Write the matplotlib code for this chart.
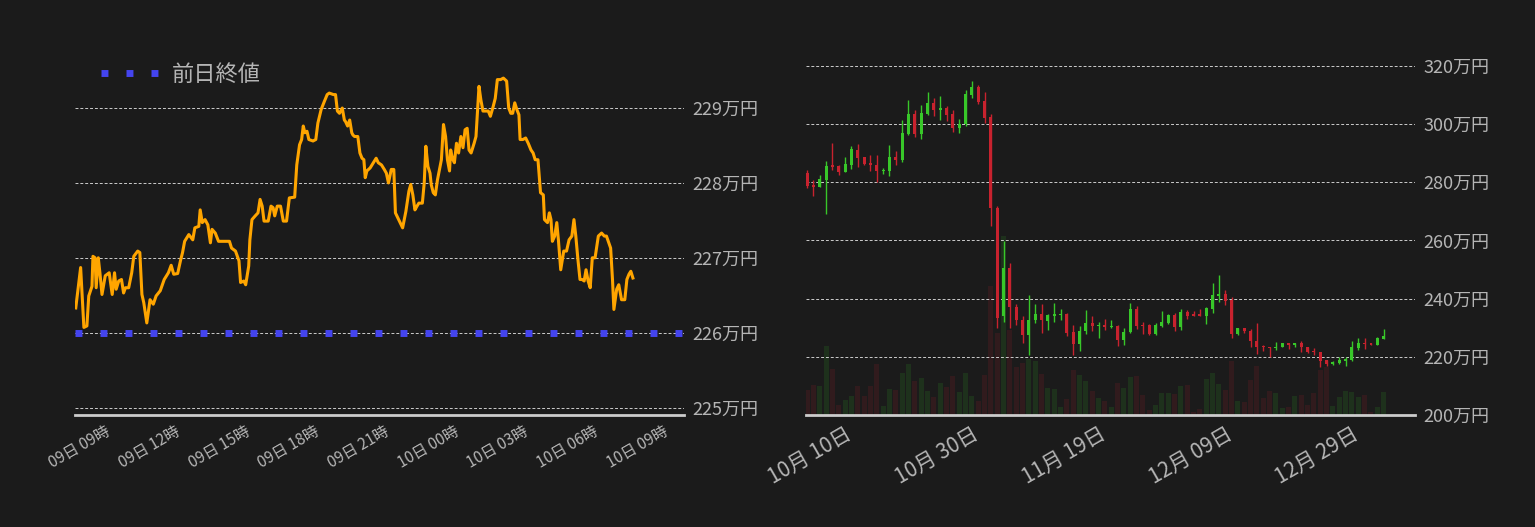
import numpy as np
import pandas as pd
import matplotlib
matplotlib.use("Agg")
import matplotlib.pyplot as plt
from matplotlib.ticker import FuncFormatter

plt.rcParams['font.family'] = ['Noto Sans CJK JP', 'DejaVu Sans']

# ---- intraday (hours from 09日 00:00, price in 万円) ----
hours = [7.73, 7.94, 8.08, 8.21, 8.29, 8.43, 8.47, 8.56, 8.61, 8.70, 8.77, 8.86, 9.00, 9.17, 9.30, 9.40,
         9.47, 9.58, 9.70, 9.79, 9.87, 10.01, 10.14, 10.23, 10.40, 10.49, 10.58, 10.66, 10.79, 10.93, 11.07,
         11.19, 11.37, 11.54, 11.72, 11.84, 11.95, 12.12, 12.24, 12.33, 12.42, 12.60, 12.77, 12.86, 13.03,
         13.09, 13.18, 13.30, 13.42, 13.53, 13.60, 13.74, 13.88, 14.09, 14.35, 14.44, 14.61, 14.76, 14.83,
         14.97, 15.05, 15.18, 15.23, 15.32, 15.46, 15.58, 15.67, 15.76, 15.84, 16.02, 16.14, 16.23, 16.30,
         16.41, 16.55, 16.67, 16.81, 16.93, 17.16, 17.25, 17.37, 17.46, 17.53, 17.60, 17.69, 17.77, 17.95,
         18.07, 18.16, 18.30, 18.44, 18.56, 18.65, 18.83, 18.92, 19.00, 19.09, 19.21, 19.30, 19.35, 19.44,
         19.53, 19.62, 19.67, 19.74, 19.88, 19.97, 20.06, 20.14, 20.20, 20.27, 20.41, 20.55, 20.67, 20.76,
         20.90, 21.02, 21.11, 21.20, 21.32, 21.43, 21.50, 21.64, 21.81, 21.95, 22.08, 22.16, 22.25, 22.34,
         22.43, 22.51, 22.66, 22.74, 22.81, 22.90, 22.99, 23.04, 23.13, 23.22, 23.31, 23.48, 23.57, 23.66,
         23.74, 23.83, 23.88, 23.95, 24.04, 24.13, 24.22, 24.32, 24.41, 24.50, 24.59, 24.67, 24.76, 24.89,
         24.97, 25.03, 25.10, 25.18, 25.27, 25.50, 25.59, 25.71, 25.80, 25.89, 26.03, 26.15, 26.29, 26.38,
         26.47, 26.55, 26.64, 26.73, 26.82, 26.87, 26.99, 27.11, 27.22, 27.34, 27.43, 27.52, 27.64, 27.75,
         27.87, 27.92, 28.05, 28.13, 28.20, 28.26, 28.36, 28.45, 28.52, 28.62, 28.75, 28.87, 28.98, 29.10,
         29.19, 29.27, 29.36, 29.45, 29.54, 29.63, 29.71, 29.80, 29.89, 29.98, 30.10, 30.24, 30.38, 30.50,
         30.59, 30.77, 30.85, 30.91, 31.03, 31.12, 31.24, 31.38, 31.47, 31.56, 31.64, 31.73]
prices = [226.33, 226.87, 226.07, 226.09, 226.49, 226.62, 227.02, 227.00, 226.60, 227.00, 226.80, 226.51,
          226.76, 226.80, 226.51, 226.80, 226.58, 226.69, 226.71, 226.53, 226.60, 226.60, 226.80, 227.02,
          227.09, 227.07, 226.51, 226.40, 226.13, 226.44, 226.38, 226.49, 226.56, 226.71, 226.80, 226.90,
          226.78, 226.79, 226.96, 227.07, 227.22, 227.31, 227.24, 227.40, 227.42, 227.64, 227.47, 227.51,
          227.44, 227.20, 227.38, 227.33, 227.22, 227.22, 227.22, 227.13, 227.09, 226.96, 226.67, 226.69,
          226.64, 226.89, 227.24, 227.51, 227.56, 227.60, 227.78, 227.69, 227.49, 227.49, 227.69, 227.67,
          227.56, 227.69, 227.69, 227.49, 227.49, 227.80, 227.81, 228.24, 228.51, 228.58, 228.76, 228.67,
          228.69, 228.58, 228.56, 228.58, 228.80, 228.98, 229.09, 229.18, 229.20, 229.18, 229.18, 228.96,
          228.93, 229.00, 228.84, 228.82, 228.76, 228.84, 228.67, 228.64, 228.62, 228.62, 228.40, 228.33,
          228.31, 228.07, 228.16, 228.20, 228.27, 228.33, 228.27, 228.24, 228.18, 228.13, 228.00, 228.18,
          228.18, 227.60, 227.51, 227.40, 227.62, 227.89, 227.98, 227.84, 227.64, 227.69, 227.73, 227.73,
          228.00, 228.49, 228.22, 228.13, 227.98, 227.87, 227.84, 228.04, 228.31, 228.78, 228.62, 228.31,
          228.16, 228.44, 228.33, 228.27, 228.53, 228.40, 228.62, 228.47, 228.71, 228.73, 228.44, 228.40,
          228.53, 228.62, 228.93, 229.29, 229.11, 228.96, 228.96, 228.89, 229.02, 229.13, 229.38, 229.38,
          229.40, 229.36, 229.00, 228.93, 228.93, 229.07, 228.98, 228.91, 228.58, 228.58, 228.60, 228.53,
          228.44, 228.40, 228.31, 228.31, 227.87, 227.84, 227.51, 227.47, 227.60, 227.51, 227.22, 227.29,
          227.47, 227.24, 226.84, 227.09, 227.09, 227.24, 227.29, 227.51, 227.29, 226.98, 226.71, 226.71,
          226.69, 226.84, 226.69, 226.60, 227.00, 227.00, 227.29, 227.33, 227.29, 227.29, 227.13, 226.71,
          226.31, 226.58, 226.64, 226.44, 226.44, 226.71, 226.78, 226.82, 226.73]
prev_close = 226.0
intraday_ticks = [9, 12, 15, 18, 21, 24, 27, 30, 33]
intraday_labels = ['09日 09時', '09日 12時', '09日 15時', '09日 18時', '09日 21時',
                   '10日 00時', '10日 03時', '10日 06時', '10日 09時']

# ---- daily candles (万円) ----
opens = [283.1, 279.2, 278.3, 280.9, 285.6, 285.6, 283.4, 286.1, 291.1, 288.6, 286.7, 286.0, 283.7, 284.0,
         288.7, 287.8, 296.7, 303.4, 296.7, 303.4, 307.1, 304.9, 305.4, 303.4, 298.7, 299.9, 310.0, 312.6,
         307.8, 302.4, 271.3, 233.9, 250.5, 237.2, 232.7, 227.4, 232.5, 234.8, 232.2, 234.2, 234.4, 234.8,
         228.5, 224.5, 229.0, 231.7, 230.5, 230.8, 230.1, 230.5, 225.7, 228.4, 236.5, 230.8, 230.8, 227.7,
         230.7, 231.7, 234.4, 230.1, 235.5, 234.4, 234.4, 234.2, 236.6, 241.0, 241.6, 239.6, 227.7, 230.0,
         228.9, 225.6, 223.5, 223.5, 223.0, 223.3, 224.6, 224.0, 224.9, 223.5, 221.8, 221.8, 218.8, 217.5,
         217.8, 218.5, 218.8, 223.1, 224.9, 224.6, 224.0, 226.0]
closes = [278.8, 278.3, 281.2, 285.6, 285.4, 283.4, 286.2, 291.4, 288.5, 286.4, 285.8, 283.7, 284.3, 288.7,
          287.7, 296.9, 303.4, 296.7, 303.7, 307.1, 304.9, 305.4, 303.2, 298.7, 299.9, 310.2, 312.6, 307.6,
          302.1, 271.1, 233.5, 250.5, 237.0, 232.5, 227.4, 232.7, 234.8, 232.5, 234.4, 234.8, 234.8, 228.3,
          224.5, 229.0, 231.7, 230.5, 230.8, 230.1, 230.5, 225.7, 228.5, 236.5, 230.5, 230.5, 227.7, 231.0,
          232.1, 234.4, 230.1, 235.5, 234.2, 234.2, 234.2, 236.8, 241.3, 241.6, 239.3, 227.7, 230.0, 228.8,
          225.3, 223.3, 223.3, 223.0, 223.5, 224.6, 224.0, 224.9, 223.3, 221.6, 221.6, 218.5, 217.5, 218.2,
          218.8, 219.2, 223.3, 224.9, 224.3, 224.0, 226.3, 227.0]
highs = [284.2, 280.9, 282.6, 287.4, 293.4, 285.9, 288.6, 292.5, 293.1, 288.8, 289.4, 289.4, 285.0, 292.8,
         290.7, 301.3, 308.2, 304.8, 306.5, 310.9, 309.0, 309.5, 306.1, 304.8, 301.6, 311.6, 314.7, 313.3,
         310.9, 303.4, 272.0, 259.9, 252.2, 238.0, 233.9, 241.3, 238.2, 238.2, 234.8, 238.5, 236.5, 235.1,
         231.0, 230.5, 236.1, 233.9, 232.1, 233.1, 232.5, 231.1, 229.9, 238.5, 237.6, 232.1, 231.4, 231.7,
         235.7, 234.8, 235.1, 236.5, 236.1, 235.8, 236.3, 237.1, 245.4, 248.1, 243.1, 240.5, 230.0, 230.0,
         229.4, 231.7, 224.2, 223.5, 225.1, 224.6, 224.6, 224.9, 225.6, 223.5, 222.9, 221.8, 218.8, 218.5,
         220.0, 220.0, 225.3, 226.3, 226.3, 224.9, 226.7, 229.7]
lows = [278.0, 275.2, 278.3, 269.2, 284.3, 282.4, 283.4, 284.7, 285.1, 285.9, 283.7, 280.1, 283.0, 282.3,
        285.8, 286.8, 296.2, 295.7, 294.9, 303.1, 302.8, 301.3, 301.0, 297.4, 296.9, 299.4, 309.0, 307.0,
        300.2, 264.9, 229.9, 232.0, 229.9, 230.8, 224.9, 220.6, 231.7, 228.3, 229.1, 232.0, 232.5, 227.1,
        220.6, 221.9, 228.0, 228.8, 226.6, 229.1, 229.9, 223.6, 224.0, 228.3, 229.7, 228.0, 227.6, 227.6,
        230.3, 231.4, 228.9, 229.3, 233.1, 234.0, 233.9, 231.4, 235.1, 239.0, 237.9, 226.3, 227.4, 228.3,
        223.3, 220.8, 221.9, 220.0, 222.2, 223.3, 222.6, 223.3, 221.7, 221.4, 220.6, 216.5, 216.9, 217.2,
        217.5, 216.9, 218.5, 222.2, 222.6, 224.0, 224.0, 226.0]
volumes = [75, 90, 87, 207, 138, 30, 45, 57, 87, 57, 87, 153, 27, 77, 75, 126, 153, 102, 111, 72, 54, 96,
           84, 117, 69, 126, 57, 42, 120, 387, 245, 537, 255, 144, 156, 168, 162, 123, 81, 78, 24, 48, 135,
           120, 102, 72, 51, 42, 24, 97, 81, 114, 117, 60, 15, 30, 66, 66, 63, 87, 90, 9, 18, 108, 126, 93,
           75, 162, 42, 39, 105, 147, 51, 72, 66, 21, 24, 57, 60, 30, 66, 135, 145, 27, 54, 72, 69, 54, 60,
           9, 24, 69]
start_date = pd.Timestamp('2024-10-04')
dates = pd.date_range(start_date, periods=len(opens), freq='D')
date_ticks = [pd.Timestamp(s) for s in ['2024-10-10', '2024-10-30', '2024-11-19', '2024-12-09', '2024-12-29']]
price_ticks = [200, 220, 240, 260, 280, 300, 320]

bg = '#1b1b1b'
txt = '#b5b5b5'
up = '#38c729'
down = '#c8222e'

fig = plt.figure(figsize=(15.35, 5.27), dpi=100, facecolor=bg)

# ---------- left: intraday ----------
ax = fig.add_axes([0.0489, 0.2125, 0.397, 0.689], facecolor=bg)
ax.plot(hours, prices, color='#ffa500', lw=2.2, zorder=3)
ax.plot([7.7, 33.95], [prev_close, prev_close], color='#4444ee', lw=5, ls=(0, (1, 2.6)),
        label='前日終値', zorder=2)
ax.set_xlim(7.7, 33.95)
ax.set_ylim(224.9, 229.75)
ax.set_yticks([225, 226, 227, 228, 229])
ax.yaxis.set_major_formatter(FuncFormatter(lambda v, p: f'{v:.0f}万円'))
ax.yaxis.tick_right()
ax.set_xticks(intraday_ticks)
ax.set_xticklabels(intraday_labels, rotation=30, ha='right', rotation_mode='anchor')
ax.grid(axis='y', color='#cccccc', ls=(0, (3, 2)), lw=0.7)
ax.tick_params(axis='y', length=0, labelsize=13, colors=txt, pad=6)
ax.tick_params(axis='x', length=0, labelsize=11, colors=txt, pad=6)
for s in ['top', 'left', 'right']:
    ax.spines[s].set_visible(False)
ax.spines['bottom'].set_color('#cccccc')
ax.spines['bottom'].set_linewidth(2)
leg = ax.legend(loc='upper left', bbox_to_anchor=(0.01, 1.025), frameon=False, fontsize=16,
                labelcolor=txt, handlelength=2.6, handletextpad=0.6)

# ---------- right: candles ----------
ax2 = fig.add_axes([0.525, 0.2125, 0.397, 0.689], facecolor=bg)
axv = ax2.twinx()
ax2.set_zorder(axv.get_zorder() + 1)
ax2.patch.set_visible(False)
axv.set_facecolor(bg)

x = np.arange(len(opens))
o = np.array(opens); c = np.array(closes)
cols = np.where(c >= o, up, down)
axv.bar(x, volumes, width=0.8, color=cols, alpha=0.13, zorder=1)
axv.set_ylim(0, 1089)
axv.axis('off')

ax2.vlines(x, lows, highs, colors=cols, lw=1, zorder=3)
body_h = np.maximum(np.abs(c - o), 0.4)
ax2.bar(x, body_h, bottom=np.minimum(o, c), width=0.45, color=cols, zorder=4)
ax2.set_xlim(-0.2, 96.0)
ax2.set_ylim(200, 324.8)
ax2.set_yticks(price_ticks)
ax2.yaxis.set_major_formatter(FuncFormatter(lambda v, p: f'{v:.0f}万円'))
ax2.yaxis.tick_right()
tick_pos = [(d - start_date).days for d in date_ticks]
ax2.set_xticks(tick_pos)
ax2.set_xticklabels([f'{d.month}月 {d.day:02d}日' for d in date_ticks], rotation=30, ha='right',
                    rotation_mode='anchor')
ax2.grid(axis='y', color='#cccccc', ls=(0, (3, 2)), lw=0.7)
ax2.tick_params(axis='y', length=0, labelsize=13, colors=txt, pad=6)
ax2.tick_params(axis='x', length=0, labelsize=15, colors=txt, pad=6)
for s in ['top', 'left', 'right']:
    ax2.spines[s].set_visible(False)
ax2.spines['bottom'].set_color('#cccccc')
ax2.spines['bottom'].set_linewidth(2)

fig.savefig('out.png', dpi=100, facecolor=bg)
